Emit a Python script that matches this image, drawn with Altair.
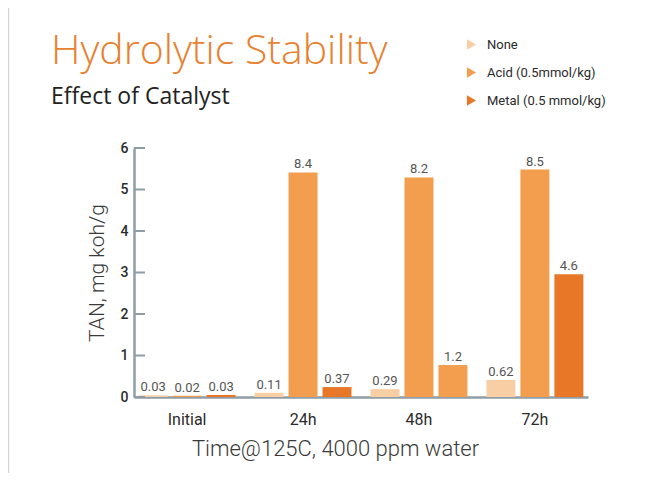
import altair as alt
import pandas as pd

categories = ["Initial", "24h", "48h", "72h"]
series = ["None", "Acid (0.5mmol/kg)", "Metal (0.5 mmol/kg)"]
colors = ["#F8CEA4", "#F29E4E", "#E87828"]

# bar heights as drawn (axis units)
heights_none = [0.04, 0.10, 0.19, 0.41]
heights_acid = [0.03, 5.41, 5.29, 5.48]
heights_metal = [0.05, 0.24, 0.77, 2.96]

# printed value labels
labels_none = ["0.03", "0.11", "0.29", "0.62"]
labels_acid = ["0.02", "8.4", "8.2", "8.5"]
labels_metal = ["0.03", "0.37", "1.2", "4.6"]

# fill shade used for each bar (48h metal bar is drawn in the acid shade)
shade_none = [series[0]] * 4
shade_acid = [series[1]] * 4
shade_metal = [series[2], series[2], series[1], series[2]]

y_ticks = [0, 1, 2, 3, 4, 5, 6]

rows = []
for s, hs, ls, sh in [
    (series[0], heights_none, labels_none, shade_none),
    (series[1], heights_acid, labels_acid, shade_acid),
    (series[2], heights_metal, labels_metal, shade_metal),
]:
    for c, h, l, shd in zip(categories, hs, ls, sh):
        rows.append({"time": c, "series": s, "value": h, "label": l, "shade": shd})
df = pd.DataFrame(rows)
ticks_df = pd.DataFrame({"t": y_ticks})

FONT = "Roboto"
TFONT = "Open Sans"
AXIS_COL = "#8E9DA6"

x_enc = alt.X(
    "time:N",
    sort=categories,
    scale=alt.Scale(paddingInner=0.164, paddingOuter=0.04),
    axis=alt.Axis(
        title="Time@125C, 4000 ppm water",
        labelAngle=0,
        ticks=False,
        domainColor=AXIS_COL,
        domainWidth=2.5,
        labelFontSize=16,
        labelFont=FONT,
        labelColor="#2b2b2b",
        labelBaseline="alphabetic",
        labelPadding=27,
        titleFontSize=22,
        titleFont=FONT,
        titleFontWeight=300,
        titleColor="#3a3a3a",
        titleX=201,
        titleY=58,
        titleAlign="center",
        titleBaseline="alphabetic",
    ),
)
xoff = alt.XOffset("series:N", sort=series, scale=alt.Scale(paddingInner=0.147, paddingOuter=0))
y_scale = alt.Scale(domain=[0, 6], nice=False)

bars = alt.Chart(df).mark_bar().encode(
    x=x_enc,
    xOffset=xoff,
    y=alt.Y(
        "value:Q",
        scale=y_scale,
        axis=alt.Axis(
            title="TAN, mg koh/g",
            values=y_ticks,
            grid=False,
            ticks=False,
            domainColor=AXIS_COL,
            domainWidth=2.5,
            labelFontSize=14,
            labelFont=FONT,
            labelFontWeight=500,
            labelColor="#2b2b2b",
            labelPadding=6,
            titleFontSize=21,
            titleFont=FONT,
            titleFontWeight=300,
            titleColor="#3a3a3a",
            titleX=-31,
            titleY=124.5,
            titleAngle=270,
            titleAlign="center",
            titleBaseline="alphabetic",
        ),
    ),
    color=alt.Color(
        "shade:N",
        scale=alt.Scale(domain=series, range=colors),
        legend=alt.Legend(
            title=None,
            orient="none",
            legendX=331,
            legendY=-110,
            symbolType="triangle-right",
            symbolSize=110,
            symbolStrokeWidth=0,
            labelFontSize=13,
            labelFont=FONT,
            labelColor="#2b2b2b",
            labelOffset=9,
            rowPadding=14,
        ),
    ),
)

texts = alt.Chart(df).mark_text(
    baseline="alphabetic", dy=-4, fontSize=13, font=FONT, color="#555555"
).encode(
    x=alt.X("time:N", sort=categories),
    xOffset=xoff,
    y=alt.Y("value:Q", scale=y_scale),
    text="label:N",
)

tick_marks = alt.Chart(ticks_df).mark_rule(color=AXIS_COL, strokeWidth=2).encode(
    y=alt.Y("t:Q", scale=y_scale),
    x=alt.value(0),
    x2=alt.value(11),
)

edge = alt.Chart(ticks_df.head(1)).mark_rule(color="#D6D6D6", strokeWidth=1.5).encode(
    x=alt.value(-125.5),
    y=alt.value(-150),
    y2=alt.value(330),
)

chart = (
    alt.layer(edge, bars, tick_marks, texts)
    .properties(
        width=454,
        height=249,
        autosize=alt.AutoSizeParams(type="none"),
        padding={"left": 126, "top": 140, "right": 66, "bottom": 76},
        title=alt.TitleParams(
            text="Hydrolytic Stability",
            subtitle="Effect of Catalyst",
            anchor="start",
            frame="group",
            dx=-83,
            offset=-113,
            font=TFONT,
            fontSize=41,
            fontWeight=300,
            color="#E8812F",
            subtitleFont=TFONT,
            subtitleFontSize=23,
            subtitleFontWeight=400,
            subtitleColor="#222222",
            subtitlePadding=13,
        ),
    )
    .configure_view(stroke=None)
)

chart.save("out.html", embed_options={"renderer": "svg", "actions": False})
